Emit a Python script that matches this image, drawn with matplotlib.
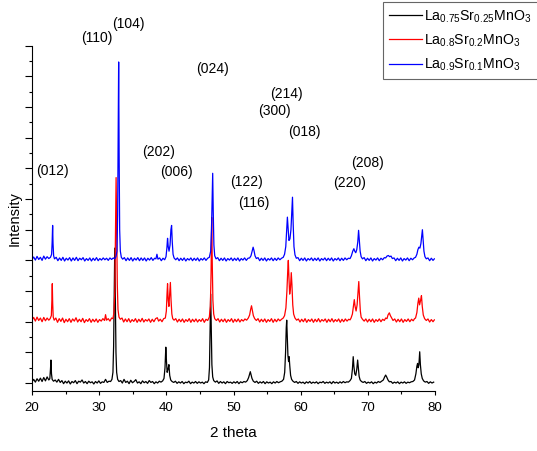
import matplotlib
matplotlib.use("Agg")
import matplotlib.pyplot as plt
from matplotlib.ticker import MultipleLocator, NullFormatter

plt.rcParams['font.family'] = ['Liberation Sans', 'DejaVu Sans']
plt.rcParams['mathtext.fontset'] = 'custom'
plt.rcParams['mathtext.rm'] = 'Liberation Sans'
plt.rcParams['mathtext.it'] = 'Liberation Sans'
plt.rcParams['mathtext.default'] = 'regular'

# ---- data (2 theta, intensity above own baseline) ----
black_pts = [
    (20.0, 0.04), (20.25, 0.12), (20.5, 0.03), (20.75, 0.14), (21.0, 0.06), (21.25, 0.16),
    (21.5, 0.05), (21.75, 0.18), (22.0, 0.07), (22.25, 0.2), (22.5, 0.1), (22.65, 0.14),
    (22.75, 0.45), (22.82, 0.75), (22.9, 0.3), (23.0, 0.12), (23.2, 0.06), (23.45, 0.1),
    (23.7, 0.03), (23.95, 0.12), (24.2, 0.02), (24.45, 0.08), (24.7, -0.02), (24.95, 0.06),
    (25.2, 0.0), (25.45, 0.07), (25.7, -0.03), (25.95, 0.05), (26.2, 0.01), (26.45, 0.08),
    (26.7, -0.02), (26.95, 0.06), (27.2, 0.03), (27.45, 0.1), (27.7, 0.0), (27.95, 0.05),
    (28.2, -0.02), (28.45, 0.06), (28.7, 0.01), (28.95, 0.04), (29.2, -0.03), (29.45, 0.05),
    (29.7, 0.0), (29.95, 0.07), (30.2, -0.01), (30.45, 0.04), (30.7, 0.02), (30.95, 0.12),
    (31.2, 0.02), (31.45, 0.06), (31.7, 0.05), (31.9, 0.12), (32.05, 0.35), (32.15, 1.2),
    (32.25, 3.2), (32.32, 4.4), (32.4, 3.0), (32.5, 1.0), (32.6, 0.35), (32.75, 0.12),
    (32.95, 0.05), (33.2, 0.08), (33.45, 0.0), (33.7, 0.12), (33.95, 0.02), (34.2, 0.06),
    (34.45, -0.02), (34.7, 0.09), (34.95, 0.01), (35.2, 0.05), (35.45, 0.11), (35.7, 0.0),
    (35.95, 0.04), (36.2, -0.02), (36.45, 0.07), (36.7, 0.01), (36.95, 0.05), (37.2, -0.01),
    (37.45, 0.08), (37.7, 0.02), (37.95, 0.05), (38.2, -0.02), (38.45, 0.04), (38.7, 0.0),
    (38.95, 0.06), (39.2, 0.03), (39.45, 0.07), (39.65, 0.15), (39.8, 0.5), (39.92, 1.17),
    (40.02, 0.7), (40.12, 0.35), (40.25, 0.45), (40.38, 0.6), (40.5, 0.25), (40.65, 0.1),
    (40.85, 0.05), (41.1, 0.02), (41.35, 0.06), (41.6, -0.01), (41.85, 0.04), (42.1, 0.0),
    (42.35, 0.05), (42.6, -0.02), (42.85, 0.03), (43.1, 0.01), (43.35, 0.06), (43.6, -0.02),
    (43.85, 0.03), (44.1, 0.0), (44.35, 0.05), (44.6, -0.01), (44.85, 0.04), (45.1, 0.0),
    (45.35, 0.03), (45.6, -0.02), (45.85, 0.04), (46.1, 0.02), (46.3, 0.1), (46.42, 0.5),
    (46.52, 1.9), (46.6, 2.9), (46.68, 1.8), (46.78, 0.6), (46.9, 0.2), (47.05, 0.08),
    (47.3, 0.03), (47.55, 0.07), (47.8, -0.01), (48.05, 0.05), (48.3, 0.0), (48.55, 0.04),
    (48.8, -0.02), (49.05, 0.05), (49.3, 0.01), (49.55, 0.03), (49.8, -0.01), (50.05, 0.04),
    (50.3, 0.0), (50.55, 0.05), (50.8, -0.02), (51.05, 0.04), (51.3, 0.01), (51.55, 0.05),
    (51.8, 0.03), (52.05, 0.08), (52.25, 0.18), (52.4, 0.3), (52.5, 0.37), (52.6, 0.28),
    (52.75, 0.15), (52.95, 0.06), (53.2, 0.02), (53.45, 0.06), (53.7, -0.01), (53.95, 0.04),
    (54.2, 0.0), (54.45, 0.05), (54.7, -0.02), (54.95, 0.04), (55.2, 0.0), (55.45, 0.03),
    (55.7, -0.02), (55.95, 0.04), (56.2, 0.0), (56.45, 0.05), (56.7, 0.01), (56.95, 0.04),
    (57.2, 0.06), (57.45, 0.12), (57.62, 0.35), (57.75, 1.0), (57.85, 1.8), (57.92, 2.05),
    (58.0, 1.5), (58.1, 0.9), (58.2, 0.7), (58.28, 0.86), (58.38, 0.55), (58.5, 0.25),
    (58.65, 0.12), (58.85, 0.06), (59.1, 0.02), (59.35, 0.05), (59.6, -0.01), (59.85, 0.04),
    (60.1, 0.0), (60.35, 0.03), (60.6, -0.02), (60.85, 0.04), (61.1, 0.0), (61.35, 0.05),
    (61.6, -0.01), (61.85, 0.03), (62.1, 0.0), (62.35, 0.04), (62.6, -0.02), (62.85, 0.03),
    (63.1, 0.01), (63.35, 0.05), (63.6, -0.01), (63.85, 0.03), (64.1, 0.0), (64.35, 0.04),
    (64.6, -0.02), (64.85, 0.05), (65.1, 0.0), (65.35, 0.03), (65.6, -0.01), (65.85, 0.04),
    (66.1, 0.0), (66.35, 0.05), (66.6, 0.01), (66.85, 0.04), (67.1, 0.03), (67.35, 0.08),
    (67.55, 0.15), (67.7, 0.45), (67.82, 0.86), (67.92, 0.55), (68.05, 0.3), (68.2, 0.25),
    (68.35, 0.45), (68.48, 0.75), (68.58, 0.5), (68.7, 0.22), (68.85, 0.1), (69.05, 0.05),
    (69.3, 0.02), (69.55, 0.05), (69.8, -0.01), (70.05, 0.03), (70.3, 0.0), (70.55, 0.04),
    (70.8, -0.02), (71.05, 0.03), (71.3, 0.0), (71.55, 0.05), (71.8, 0.02), (72.05, 0.06),
    (72.3, 0.1), (72.5, 0.2), (72.65, 0.26), (72.8, 0.2), (73.0, 0.1), (73.2, 0.04),
    (73.45, 0.05), (73.7, -0.01), (73.95, 0.03), (74.2, 0.0), (74.45, 0.04), (74.7, -0.02),
    (74.95, 0.03), (75.2, 0.0), (75.45, 0.04), (75.7, -0.01), (75.95, 0.03), (76.2, 0.01),
    (76.45, 0.04), (76.7, 0.05), (76.95, 0.1), (77.15, 0.3), (77.3, 0.55), (77.4, 0.64),
    (77.5, 0.5), (77.6, 0.6), (77.72, 1.02), (77.82, 0.6), (77.95, 0.3), (78.1, 0.15),
    (78.3, 0.07), (78.55, 0.03), (78.8, 0.05), (79.05, -0.01), (79.3, 0.04), (79.55, 0.0),
    (79.8, 0.03),
]

red_pts = [
    (20.0, 0.05), (20.25, 0.14), (20.5, 0.02), (20.75, 0.15), (21.0, 0.04), (21.25, 0.12),
    (21.5, 0.0), (21.75, 0.14), (22.0, 0.03), (22.25, 0.12), (22.5, 0.05), (22.7, 0.1),
    (22.88, 0.2), (22.96, 0.7), (23.02, 1.24), (23.08, 0.6), (23.16, 0.15), (23.3, 0.05),
    (23.55, 0.12), (23.8, -0.02), (24.05, 0.1), (24.3, 0.01), (24.55, 0.12), (24.8, -0.03),
    (25.05, 0.08), (25.3, 0.0), (25.55, 0.1), (25.8, -0.02), (26.05, 0.09), (26.3, 0.02),
    (26.55, 0.13), (26.8, -0.01), (27.05, 0.08), (27.3, 0.0), (27.55, 0.11), (27.8, -0.03),
    (28.05, 0.07), (28.3, 0.01), (28.55, 0.1), (28.8, -0.02), (29.05, 0.08), (29.3, 0.0),
    (29.55, 0.09), (29.8, -0.02), (30.05, 0.07), (30.3, 0.02), (30.55, 0.1), (30.8, 0.04),
    (30.95, 0.23), (31.1, 0.05), (31.35, 0.1), (31.6, 0.02), (31.85, 0.12), (32.05, 0.1),
    (32.2, 0.3), (32.33, 1.0), (32.43, 3.0), (32.52, 4.7), (32.6, 3.2), (32.7, 1.2),
    (32.8, 0.4), (32.95, 0.15), (33.15, 0.08), (33.4, 0.12), (33.65, -0.01), (33.9, 0.09),
    (34.15, 0.0), (34.4, 0.1), (34.65, -0.02), (34.9, 0.07), (35.15, 0.01), (35.4, 0.1),
    (35.65, -0.02), (35.9, 0.08), (36.15, 0.0), (36.4, 0.11), (36.65, -0.01), (36.9, 0.07),
    (37.15, 0.02), (37.4, 0.09), (37.65, -0.02), (37.9, 0.08), (38.15, 0.0), (38.4, 0.1),
    (38.65, 0.13), (38.85, 0.02), (39.1, 0.08), (39.35, 0.0), (39.6, 0.1), (39.85, 0.12),
    (40.0, 0.35), (40.1, 0.9), (40.18, 1.24), (40.28, 0.7), (40.38, 0.5), (40.5, 0.9),
    (40.6, 1.28), (40.7, 0.7), (40.82, 0.25), (40.95, 0.1), (41.15, 0.05), (41.4, 0.1),
    (41.65, -0.01), (41.9, 0.08), (42.15, 0.0), (42.4, 0.09), (42.65, -0.02), (42.9, 0.07),
    (43.15, 0.01), (43.4, 0.1), (43.65, -0.02), (43.9, 0.08), (44.15, 0.0), (44.4, 0.09),
    (44.65, -0.01), (44.9, 0.07), (45.15, 0.01), (45.4, 0.1), (45.65, -0.02), (45.9, 0.08),
    (46.15, 0.04), (46.4, 0.15), (46.55, 0.5), (46.66, 1.6), (46.75, 3.4), (46.83, 2.0),
    (46.93, 0.7), (47.05, 0.25), (47.2, 0.1), (47.45, 0.04), (47.7, 0.1), (47.95, -0.01),
    (48.2, 0.08), (48.45, 0.0), (48.7, 0.09), (48.95, -0.02), (49.2, 0.07), (49.45, 0.01),
    (49.7, 0.1), (49.95, -0.02), (50.2, 0.08), (50.45, 0.0), (50.7, 0.09), (50.95, -0.01),
    (51.2, 0.07), (51.45, 0.02), (51.7, 0.09), (51.95, 0.05), (52.2, 0.12), (52.4, 0.22),
    (52.55, 0.4), (52.68, 0.52), (52.8, 0.38), (52.95, 0.2), (53.15, 0.1), (53.4, 0.04),
    (53.65, 0.1), (53.9, -0.01), (54.15, 0.08), (54.4, 0.0), (54.65, 0.09), (54.9, -0.02),
    (55.15, 0.07), (55.4, 0.01), (55.65, 0.1), (55.9, -0.02), (56.15, 0.08), (56.4, 0.0),
    (56.65, 0.09), (56.9, 0.03), (57.15, 0.08), (57.4, 0.12), (57.6, 0.2), (57.8, 0.45),
    (57.95, 1.0), (58.08, 1.7), (58.16, 2.0), (58.26, 1.4), (58.36, 0.9), (58.48, 1.1),
    (58.6, 1.6), (58.7, 1.2), (58.82, 0.55), (58.95, 0.25), (59.15, 0.12), (59.4, 0.05),
    (59.65, 0.09), (59.9, -0.01), (60.15, 0.08), (60.4, 0.0), (60.65, 0.1), (60.9, -0.02),
    (61.15, 0.07), (61.4, 0.01), (61.65, 0.09), (61.9, -0.02), (62.15, 0.08), (62.4, 0.0),
    (62.65, 0.1), (62.9, -0.01), (63.15, 0.07), (63.4, 0.02), (63.65, 0.09), (63.9, -0.02),
    (64.15, 0.08), (64.4, 0.0), (64.65, 0.1), (64.9, -0.01), (65.15, 0.07), (65.4, 0.01),
    (65.65, 0.09), (65.9, -0.02), (66.15, 0.08), (66.4, 0.0), (66.65, 0.09), (66.9, 0.02),
    (67.15, 0.08), (67.35, 0.06), (67.5, 0.12), (67.7, 0.25), (67.85, 0.5), (67.98, 0.72),
    (68.1, 0.5), (68.25, 0.35), (68.4, 0.55), (68.55, 1.0), (68.65, 1.31), (68.75, 0.85),
    (68.88, 0.35), (69.0, 0.15), (69.2, 0.08), (69.45, 0.02), (69.7, 0.09), (69.95, -0.01),
    (70.2, 0.08), (70.45, 0.0), (70.7, 0.09), (70.95, -0.02), (71.2, 0.07), (71.45, 0.01),
    (71.7, 0.09), (71.95, 0.0), (72.2, 0.08), (72.45, 0.04), (72.65, 0.12), (72.85, 0.1),
    (73.0, 0.22), (73.2, 0.29), (73.35, 0.2), (73.55, 0.12), (73.75, 0.04), (74.0, 0.09),
    (74.25, -0.01), (74.5, 0.08), (74.75, 0.0), (75.0, 0.09), (75.25, -0.02), (75.5, 0.07),
    (75.75, 0.01), (76.0, 0.09), (76.25, 0.0), (76.5, 0.08), (76.75, 0.03), (76.95, 0.1),
    (77.1, 0.12), (77.3, 0.3), (77.45, 0.6), (77.58, 0.77), (77.7, 0.55), (77.85, 0.7),
    (77.98, 0.85), (78.1, 0.5), (78.25, 0.22), (78.45, 0.1), (78.7, 0.04), (78.95, 0.09),
    (79.2, -0.01), (79.45, 0.07), (79.7, 0.0), (79.9, 0.06),
]

blue_pts = [
    (20.0, 0.03), (20.25, 0.11), (20.5, 0.01), (20.75, 0.13), (21.0, 0.03), (21.25, 0.1),
    (21.5, 0.0), (21.75, 0.14), (22.0, 0.04), (22.25, 0.12), (22.5, 0.06), (22.75, 0.1),
    (22.92, 0.2), (23.0, 0.6), (23.07, 1.14), (23.13, 0.55), (23.22, 0.15), (23.35, 0.05),
    (23.6, 0.1), (23.85, -0.01), (24.1, 0.08), (24.35, 0.0), (24.6, 0.1), (24.85, -0.02),
    (25.1, 0.07), (25.35, 0.01), (25.6, 0.09), (25.85, -0.02), (26.1, 0.08), (26.35, 0.0),
    (26.6, 0.1), (26.85, -0.01), (27.1, 0.07), (27.35, 0.02), (27.6, 0.09), (27.85, -0.02),
    (28.1, 0.06), (28.35, 0.0), (28.6, 0.08), (28.85, -0.02), (29.1, 0.07), (29.35, 0.0),
    (29.6, 0.09), (29.85, -0.01), (30.1, 0.06), (30.35, 0.01), (30.6, 0.08), (30.85, 0.02),
    (31.1, 0.07), (31.35, 0.0), (31.6, 0.08), (31.85, 0.03), (32.1, 0.08), (32.3, 0.05),
    (32.5, 0.12), (32.65, 0.3), (32.75, 1.5), (32.83, 4.0), (32.9, 6.47), (32.97, 3.5),
    (33.05, 1.0), (33.15, 0.3), (33.3, 0.1), (33.5, 0.04), (33.75, 0.09), (34.0, -0.01),
    (34.25, 0.08), (34.5, 0.0), (34.75, 0.09), (35.0, -0.02), (35.25, 0.07), (35.5, 0.01),
    (35.75, 0.09), (36.0, -0.01), (36.25, 0.08), (36.5, 0.0), (36.75, 0.08), (37.0, -0.02),
    (37.25, 0.07), (37.5, 0.01), (37.75, 0.09), (38.0, 0.0), (38.25, 0.07), (38.45, 0.05),
    (38.6, 0.2), (38.75, 0.04), (39.0, 0.08), (39.25, -0.01), (39.5, 0.07), (39.75, 0.02),
    (39.95, 0.12), (40.08, 0.4), (40.18, 0.72), (40.28, 0.45), (40.4, 0.3), (40.55, 0.5),
    (40.68, 1.0), (40.78, 1.14), (40.88, 0.6), (41.0, 0.2), (41.15, 0.08), (41.4, 0.02),
    (41.65, 0.08), (41.9, -0.01), (42.15, 0.07), (42.4, 0.0), (42.65, 0.08), (42.9, -0.02),
    (43.15, 0.06), (43.4, 0.01), (43.65, 0.08), (43.9, -0.01), (44.15, 0.07), (44.4, 0.0),
    (44.65, 0.08), (44.9, -0.02), (45.15, 0.06), (45.4, 0.01), (45.65, 0.08), (45.9, 0.0),
    (46.15, 0.07), (46.4, 0.1), (46.6, 0.3), (46.72, 1.0), (46.82, 2.0), (46.9, 2.84),
    (46.98, 1.6), (47.08, 0.5), (47.2, 0.15), (47.4, 0.05), (47.65, 0.09), (47.9, -0.01),
    (48.15, 0.07), (48.4, 0.0), (48.65, 0.08), (48.9, -0.02), (49.15, 0.06), (49.4, 0.01),
    (49.65, 0.08), (49.9, -0.01), (50.15, 0.07), (50.4, 0.0), (50.65, 0.08), (50.9, -0.02),
    (51.15, 0.06), (51.4, 0.01), (51.65, 0.08), (51.9, 0.0), (52.15, 0.07), (52.4, 0.08),
    (52.6, 0.15), (52.78, 0.3), (52.92, 0.43), (53.05, 0.32), (53.2, 0.15), (53.4, 0.06),
    (53.65, 0.09), (53.9, -0.01), (54.15, 0.07), (54.4, 0.0), (54.65, 0.08), (54.9, -0.02),
    (55.15, 0.06), (55.4, 0.01), (55.65, 0.08), (55.9, -0.01), (56.15, 0.07), (56.4, 0.0),
    (56.65, 0.08), (56.9, 0.02), (57.15, 0.07), (57.4, 0.1), (57.6, 0.2), (57.78, 0.45),
    (57.92, 1.0), (58.02, 1.41), (58.12, 1.1), (58.25, 0.65), (58.4, 0.7), (58.55, 1.0),
    (58.68, 1.6), (58.78, 2.06), (58.88, 1.2), (59.0, 0.45), (59.15, 0.18), (59.35, 0.07),
    (59.6, 0.09), (59.85, -0.01), (60.1, 0.07), (60.35, 0.0), (60.6, 0.08), (60.85, -0.02),
    (61.1, 0.06), (61.35, 0.01), (61.6, 0.08), (61.85, -0.01), (62.1, 0.07), (62.35, 0.0),
    (62.6, 0.08), (62.85, -0.02), (63.1, 0.06), (63.35, 0.01), (63.6, 0.08), (63.85, -0.01),
    (64.1, 0.07), (64.35, 0.0), (64.6, 0.08), (64.85, -0.02), (65.1, 0.06), (65.35, 0.01),
    (65.6, 0.08), (65.85, -0.01), (66.1, 0.07), (66.35, 0.0), (66.6, 0.08), (66.85, 0.02),
    (67.1, 0.07), (67.35, 0.06), (67.55, 0.15), (67.75, 0.3), (67.92, 0.38), (68.05, 0.3),
    (68.2, 0.25), (68.35, 0.35), (68.5, 0.6), (68.62, 0.98), (68.72, 0.7), (68.85, 0.3),
    (69.0, 0.12), (69.2, 0.05), (69.45, 0.09), (69.7, -0.01), (69.95, 0.07), (70.2, 0.0),
    (70.45, 0.08), (70.7, -0.02), (70.95, 0.06), (71.2, 0.01), (71.45, 0.08), (71.7, -0.01),
    (71.95, 0.07), (72.2, 0.02), (72.45, 0.09), (72.65, 0.08), (72.85, 0.14), (73.05, 0.16),
    (73.25, 0.12), (73.45, 0.14), (73.65, 0.06), (73.9, 0.08), (74.15, -0.01), (74.4, 0.07),
    (74.65, 0.0), (74.9, 0.08), (75.15, -0.02), (75.4, 0.06), (75.65, 0.01), (75.9, 0.08),
    (76.15, -0.01), (76.4, 0.07), (76.65, 0.02), (76.9, 0.08), (77.1, 0.1), (77.3, 0.2),
    (77.45, 0.35), (77.6, 0.43), (77.75, 0.4), (77.9, 0.55), (78.03, 0.8), (78.12, 1.0),
    (78.22, 0.7), (78.35, 0.3), (78.5, 0.12), (78.7, 0.05), (78.95, 0.08), (79.2, -0.01),
    (79.45, 0.07), (79.7, 0.0), (79.9, 0.05),
]

series_pts = [black_pts, red_pts, blue_pts]
series_labels = ['La$_{0.75}$Sr$_{0.25}$MnO$_3$',
                 'La$_{0.8}$Sr$_{0.2}$MnO$_3$',
                 'La$_{0.9}$Sr$_{0.1}$MnO$_3$']
series_colors = ['#000000', '#ff0000', '#0000ff']
series_offsets = [0, 2, 4]

# Miller index labels (2 theta, height on the stacked scale)
hkl_labels = ['(012)', '(110)', '(104)', '(202)', '(006)', '(024)', '(122)',
              '(116)', '(300)', '(214)', '(018)', '(220)', '(208)']
hkl_tth = [23.1, 29.7, 34.3, 38.9, 41.45, 46.8, 51.9,
           53.05, 56.05, 57.95, 60.5, 67.35, 70.0]
hkl_y = [6.9, 11.25, 11.7, 7.53, 6.88, 10.24, 6.56,
         5.87, 8.87, 9.43, 8.19, 6.52, 7.18]

fig = plt.figure(figsize=(5.37, 4.51), dpi=100)
ax = fig.add_axes([0.0596, 0.133, 0.7505, 0.7656])

handles = []
for pts, lab, col, off in zip(series_pts, series_labels, series_colors, series_offsets):
    tth = [p[0] for p in pts]
    inten = [p[1] + off for p in pts]
    h, = ax.plot(tth, inten, color=col, lw=0.9, label=lab)
    handles.append(h)

for lab, x, y in zip(hkl_labels, hkl_tth, hkl_y):
    ax.text(x, y, lab, ha='center', va='center', fontsize=10, clip_on=False)

ax.set_xlim(20, 80)
ax.set_ylim(-0.26, 11)
ax.spines['top'].set_visible(False)
ax.spines['right'].set_visible(False)
for s in ('left', 'bottom'):
    ax.spines[s].set_linewidth(0.8)

ax.xaxis.set_major_locator(MultipleLocator(10))
ax.xaxis.set_minor_locator(MultipleLocator(5))
ax.yaxis.set_major_locator(MultipleLocator(1))
ax.yaxis.set_minor_locator(MultipleLocator(0.5))
ax.yaxis.set_major_formatter(NullFormatter())
ax.tick_params(axis='x', which='major', length=3.2, width=0.8, labelsize=9.5, pad=4.5)
ax.tick_params(axis='x', which='minor', length=2.0, width=0.8)
ax.tick_params(axis='y', which='major', length=4.8, width=0.8)
ax.tick_params(axis='y', which='minor', length=2.4, width=0.8)

ax.set_xlabel('2 theta', fontsize=11, labelpad=9)
ax.set_ylabel('Intensity', fontsize=10.5, labelpad=-1)

leg = ax.legend(handles=handles, loc='upper left', bbox_to_anchor=(0.713, 0.996),
                bbox_transform=fig.transFigure, fontsize=10.2, fancybox=False,
                edgecolor='#666666', framealpha=1, borderaxespad=0,
                handlelength=2.3, handletextpad=0.15, labelspacing=0.55,
                borderpad=0.45)
leg.get_frame().set_linewidth(0.8)

fig.savefig('out.png', dpi=100)
